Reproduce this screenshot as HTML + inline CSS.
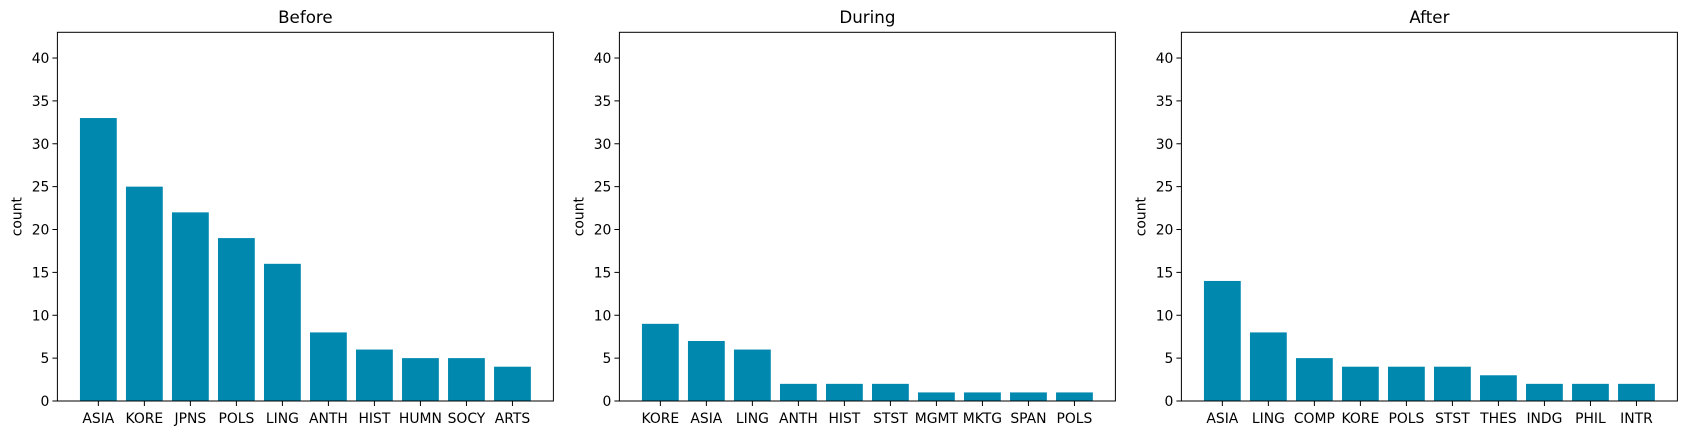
<!DOCTYPE html>
<html><head><meta charset="utf-8"><style>
html,body{margin:0;padding:0;background:#fff;}
svg{display:block;font-family:"DejaVu Sans","Liberation Sans",sans-serif;}
</style></head><body>
<svg id="chart" width="1686" height="435"></svg>
<script>
const titles = ["Before","During","After"];
const catsBefore = ["ASIA","KORE","JPNS","POLS","LING","ANTH","HIST","HUMN","SOCY","ARTS"];
const valsBefore = [33,25,22,19,16,8,6,5,5,4];
const catsDuring = ["KORE","ASIA","LING","ANTH","HIST","STST","MGMT","MKTG","SPAN","POLS"];
const valsDuring = [9,7,6,2,2,2,1,1,1,1];
const catsAfter = ["ASIA","LING","COMP","KORE","POLS","STST","THES","INDG","PHIL","INTR"];
const valsAfter = [14,8,5,4,4,4,3,2,2,2];
const yTicks = [0,5,10,15,20,25,30,35,40];

const cats = [catsBefore,catsDuring,catsAfter];
const vals = [valsBefore,valsDuring,valsAfter];
const NS = "http://www.w3.org/2000/svg";
const svg = document.getElementById('chart');
const lefts = [57.4, 619.4, 1181.4];
const W = 496, TOP = 32.3, BOT = 401;
const YMAX = 43.0;
function mk(tag, attrs, parent){const e=document.createElementNS(NS,tag);for(const k in attrs)e.setAttribute(k,attrs[k]);parent.appendChild(e);return e;}

for(let p=0;p<3;p++){
  const L = lefts[p];
  const g = mk('g',{},svg);
  
  
  const n = cats[p].length;
  const xmin = -0.49 - 0.4, xmax = n - 1 + 0.4 + 0.49;
  const xs = v => L + (v - xmin) / (xmax - xmin) * W;
  const ys = v => BOT - v / YMAX * (BOT - TOP);
  for(let i=0;i<n;i++){
    const x0 = xs(i-0.4), x1 = xs(i+0.4), y = ys(vals[p][i]);
    const r = mk('rect',{x:x0,y:y,width:x1-x0,height:BOT-y,fill:'#0088AF'},g);
    
    
    mk('line',{x1:xs(i),x2:xs(i),y1:BOT,y2:BOT+5,stroke:'#000','stroke-width':1},g);
    const t = mk('text',{x:xs(i),y:BOT+22,'text-anchor':'middle','font-size':'13.9px',fill:'#000'},g);
    t.textContent = cats[p][i];
    
    
  }
  for(const v of yTicks){
    const y = ys(v);
    mk('line',{x1:L-5,x2:L,y1:y,y2:y,stroke:'#000','stroke-width':1},g);
    const t = mk('text',{x:L-8,y:y+5,'text-anchor':'end','font-size':'13.9px',fill:'#000'},g);
    t.textContent = v;
    
    
  }
  const fr = mk('rect',{x:L,y:TOP,width:W,height:BOT-TOP,fill:'none',stroke:'#000','stroke-width':1},g);
  
  
  const tt = mk('text',{x:L+W/2,y:23,'text-anchor':'middle','font-size':'16.7px',fill:'#000'},g);
  tt.textContent = titles[p];
  
  
  const yl = mk('text',{x:0,y:0,'text-anchor':'middle','font-size':'13.9px',fill:'#000',transform:'translate('+(L-36)+','+((TOP+BOT)/2)+') rotate(-90)'},g);
  yl.textContent = 'count';
  
  
}
</script>
</body></html>
